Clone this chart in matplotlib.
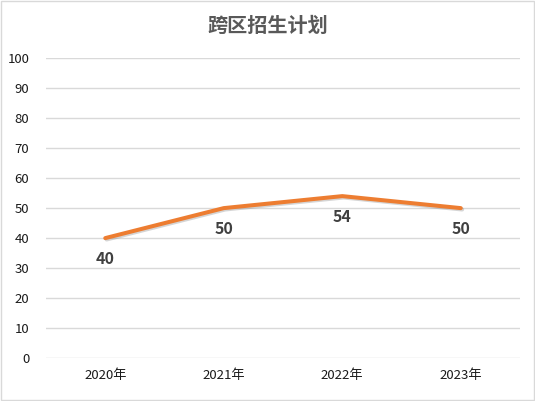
import matplotlib
matplotlib.use('Agg')
import matplotlib.pyplot as plt
import matplotlib.patheffects as pe

plt.rcParams['font.family'] = ['Noto Sans CJK SC', 'DejaVu Sans']

# Chart data
years = ['2020年', '2021年', '2022年', '2023年']
plan = [40, 50, 54, 50]
y_ticks = list(range(0, 101, 10))

fig = plt.figure(figsize=(5.35, 4.01), dpi=100)
ax = fig.add_axes([0.086, 0.107, 0.886, 0.748])

x = list(range(len(years)))
ax.plot(x, plan, color='#ED7D31', linewidth=2.9, solid_capstyle='round',
        path_effects=[pe.SimpleLineShadow(offset=(1, -1), shadow_color='#888888', alpha=0.35),
                      pe.Normal()], zorder=3)

for xi, v in zip(x, plan):
    ax.annotate(str(v), (xi, v), xytext=(0, -15), textcoords='offset points',
                ha='center', va='center', fontsize=11.5, fontweight='bold', color='#404040')

ax.set_xlim(-0.5, len(years) - 0.5)
ax.set_ylim(0, 100)
ax.set_yticks(y_ticks)
ax.set_xticks(x)
ax.set_xticklabels(years)
ax.tick_params(axis='both', length=0, labelsize=9.5, colors='#1a1a1a')
ax.tick_params(axis='y', pad=12)
ax.tick_params(axis='x', pad=8)
ax.grid(axis='y', color='#D9D9D9', linewidth=1)
ax.set_axisbelow(True)
for s in ax.spines.values():
    s.set_visible(False)

fig.suptitle('跨区招生计划', x=0.5, y=0.962, fontsize=14.5, fontweight='bold', color='#595959')

fig.patches.append(plt.Rectangle((0.002, 0.002), 0.996, 0.996, transform=fig.transFigure,
                                 fill=False, edgecolor='#D9D9D9', linewidth=1))

fig.savefig('out.png', dpi=100)
